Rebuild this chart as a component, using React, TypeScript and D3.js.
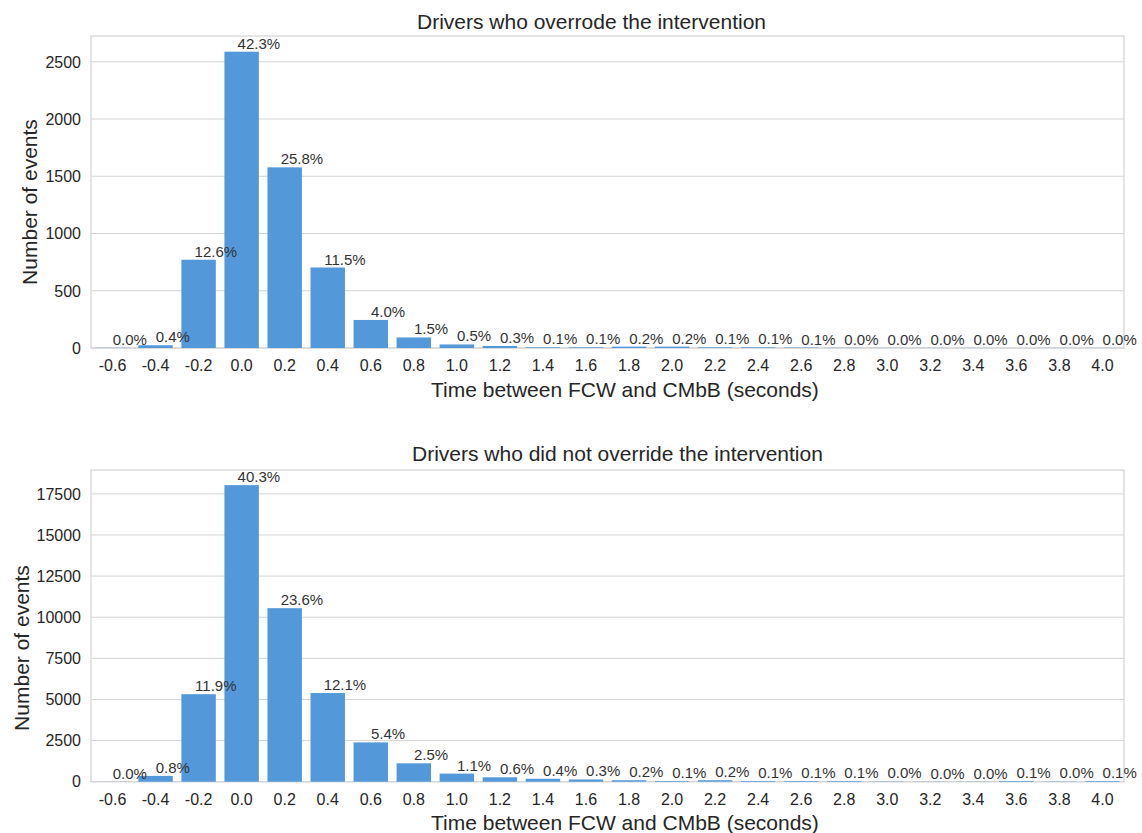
import React from "react";
import * as d3 from "d3";

const categories = ["-0.6","-0.4","-0.2","0.0","0.2","0.4","0.6","0.8","1.0","1.2","1.4","1.6","1.8","2.0","2.2","2.4","2.6","2.8","3.0","3.2","3.4","3.6","3.8","4.0"];

const overrideCounts = [2,24,771,2588,1578,703,245,92,31,18,6,6,12,12,6,6,4,2,1,1,1,0,1,1];
const overrideLabels = ["0.0%","0.4%","12.6%","42.3%","25.8%","11.5%","4.0%","1.5%","0.5%","0.3%","0.1%","0.1%","0.2%","0.2%","0.1%","0.1%","0.1%","0.0%","0.0%","0.0%","0.0%","0.0%","0.0%","0.0%"];
const overrideTicks = [0,500,1000,1500,2000,2500];

const noOverrideCounts = [5,355,5320,18030,10550,5390,2390,1118,492,268,179,134,89,45,89,45,40,40,15,10,10,40,15,40];
const noOverrideLabels = ["0.0%","0.8%","11.9%","40.3%","23.6%","12.1%","5.4%","2.5%","1.1%","0.6%","0.4%","0.3%","0.2%","0.1%","0.2%","0.1%","0.1%","0.1%","0.0%","0.0%","0.0%","0.1%","0.0%","0.1%"];
const noOverrideTicks = [0,2500,5000,7500,10000,12500,15000,17500];

const FONT = "'Liberation Sans', Arial, Helvetica, sans-serif";
const BAR = "#5399d9";
const GRID = "#d4d4d4";
const TEXT = "#262626";

type PanelProps = {
  top: number; bottom: number; yMax: number;
  counts: number[]; labels: string[]; ticks: number[];
  title: string; titleX: number; titleY: number;
  yLabelX: number; yLabelY: number;
  xLabelX: number; xLabelY: number;
};

function Panel(p: PanelProps) {
  const left = 91, right = 1124;
  const x = d3.scaleBand<string>().domain(categories).range([left, right]).paddingInner(0.2).paddingOuter(0.1);
  const y = d3.scaleLinear().domain([0, p.yMax]).range([p.bottom, p.top]);
  return (
    <g>
      {p.ticks.map((t) => (
        <g key={t}>
          <line x1={left} x2={right} y1={y(t)} y2={y(t)} stroke={GRID} strokeWidth={1} />
          <text x={81} y={y(t)} dy="0.36em" textAnchor="end" fontSize={16} fill={TEXT}>{t}</text>
        </g>
      ))}
      <rect x={left} y={p.top} width={right - left} height={p.bottom - p.top} fill="none" stroke={GRID} strokeWidth={1.25} />
      {categories.map((c, i) => (
        <rect key={c} x={x(c)} y={y(p.counts[i])} width={x.bandwidth()} height={p.bottom - y(p.counts[i])} fill={BAR} />
      ))}
      {categories.map((c, i) => (
        <text key={"l" + c} x={(x(c) as number) + x.bandwidth()} y={y(p.counts[i]) - 3} textAnchor="middle" fontSize={15} fill="#333333">{p.labels[i]}</text>
      ))}
      {categories.map((c) => (
        <text key={"t" + c} x={(x(c) as number) + x.bandwidth() / 2} y={p.bottom + 23} textAnchor="middle" fontSize={16} fill={TEXT}>{c}</text>
      ))}
      <text x={p.titleX} y={p.titleY} textAnchor="start" fontSize={21} fill={TEXT}>{p.title}</text>
      <text x={p.xLabelX} y={p.xLabelY} textAnchor="start" fontSize={21} fill={TEXT}>Time between FCW and CMbB (seconds)</text>
      <text transform={`translate(${p.yLabelX},${p.yLabelY}) rotate(-90)`} textAnchor="middle" fontSize={21} fill={TEXT}>Number of events</text>
    </g>
  );
}

export default function App() {
  return (
    <svg width={1142} height={833} style={{ position: "absolute", left: 0, top: 0, background: "#fff" }} fontFamily={FONT}>
      <rect width={1142} height={833} fill="#fff" />
      <Panel top={36} bottom={348} yMax={2725} counts={overrideCounts} labels={overrideLabels} ticks={overrideTicks}
        title="Drivers who overrode the intervention" titleX={417} titleY={29}
        yLabelX={37} yLabelY={202} xLabelX={431} xLabelY={397} />
      <Panel top={470} bottom={781.7} yMax={18950} counts={noOverrideCounts} labels={noOverrideLabels} ticks={noOverrideTicks}
        title="Drivers who did not override the intervention" titleX={412} titleY={461}
        yLabelX={29} yLabelY={648} xLabelX={431} xLabelY={830} />
    </svg>
  );
}
